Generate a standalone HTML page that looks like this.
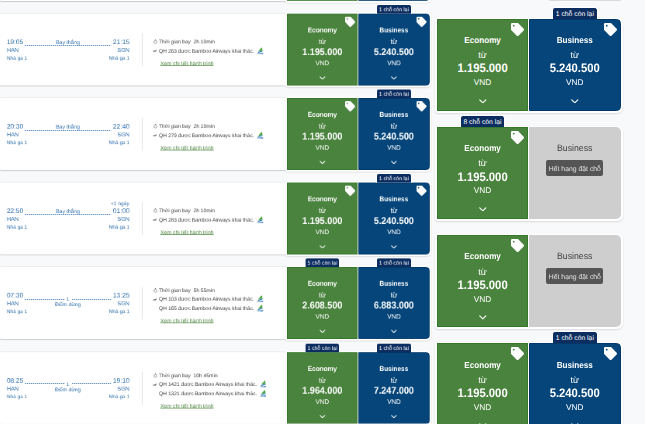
<!DOCTYPE html>
<html><head><meta charset="utf-8"><title>Flights</title><style>
*{margin:0;padding:0;box-sizing:border-box}
html,body{width:645px;height:424px;overflow:hidden;background:#f8f9fb}
body{position:relative;font-family:"Liberation Sans",sans-serif;text-rendering:geometricPrecision}
.left{position:absolute;left:0;top:0;width:559.28px;height:544.76px;overflow:hidden;transform:translate(-0.2px,0.31px) scale(0.776,0.782);transform-origin:0 0;will-change:transform}
.row{position:absolute;left:0;width:567.01px;height:92px}
.card{position:absolute;left:0;top:0;width:369px;height:92px;background:#fff;border-radius:2px;box-shadow:0 1px 1.2px rgba(0,0,0,.2),0 -0.5px 1.5px rgba(0,0,0,.07)}
.row div{position:absolute;white-space:nowrap;line-height:1}
.t{font-size:8.54px;color:#2f6fad;top:31.91px}
.ap{font-size:7.32px;color:#2f6fad;top:43.03px}
.tm{font-size:6.55px;color:#2f6fad;top:55.43px}
.dep{left:8.89px}
.arr{right:399.87px}
.plus{font-size:6.68px;color:#2f6fad;top:24.87px;right:400.13px}
.dots{top:40.86px;height:1.1px;background:repeating-linear-gradient(90deg,#3d78b0 0,#3d78b0 1px,transparent 1px,transparent 1.8px)}
.direct{font-size:6.80px;color:#2f6fad;top:35.10px;left:48.97px;width:77.32px;text-align:center}
.stopn{font-size:6.29px;color:#2f6fad;top:38.55px;left:74.74px;width:25.77px;text-align:center}
.stopl{font-size:6.74px;color:#2f6fad;top:46.36px;left:48.97px;width:77.32px;text-align:center}
.vline{left:183.12px;top:25.13px;width:1px;height:42.20px;background:#dcdfe3}
.ln{left:197.16px;height:7.70px;font-size:6.68px;color:#3d3d3d}
.ln .tx{position:absolute;left:7.86px;top:-3.08px;line-height:6.42px;height:6.42px}
.ln .tx svg{position:absolute;left:100%;top:-2.82px;margin-left:3.21px}
.ico{position:absolute}
.clock{left:0.51px;top:-3.47px;width:5.01px;height:5.65px}
.plane{left:0;top:-2.31px;width:5.39px;height:3.34px}
.logo{width:8.73px;height:9.37px}
.link{left:206.96px;font-size:6.87px;color:#4a843c;text-decoration:underline;text-decoration-thickness:0.8px;text-decoration-skip-ink:none;text-underline-offset:0.4px;text-decoration-color:rgba(74,132,60,.75);line-height:6.42px;margin-top:-2.44px}
.cw{position:absolute;top:0;width:0;height:0}
/* ---- cells at design scale ---- */
.pair{position:absolute;left:-2.0px;top:-2.0px;width:187.7px;height:96.0px;background:#fff;border-radius:3px 6px 6px 3px;box-shadow:0 1px 2px rgba(0,0,0,.13)}
.cell{position:absolute;top:0;height:92.0px;color:#fff;text-align:center}
.cell.eco{background:#4a833d;border:1px solid #35782a}
.cell.bus{background:#05457a;border:1px solid #003768;border-radius:0 4.5px 4.5px 0}
.cell.gray{background:#cecece;border-radius:0 5px 5px 0}
.cell div{position:absolute;left:-1px;right:-1px;white-space:nowrap;line-height:1}
.cell.gray div{left:0;right:0}
.cell .lbl{font-weight:bold;font-size:8.8px;top:16.3px;transform:scaleX(.925)}
.cell .tu{font-size:9px;top:31.4px}
.cell .num{font-weight:bold;font-size:12.2px;top:42.5px;transform:scaleX(.925)}
.cell .vnd{font-size:8.3px;top:58.4px}
.cell .chev{position:absolute;left:41.1px;top:78.9px;width:7.6px;height:4.6px}
.cell .tag{position:absolute;left:73.6px;top:3.1px;width:13px;height:13px}
.cell .badge{left:50%;right:auto;top:-12.9px;height:11.9px;width:45.6px;margin-left:-22.8px;background:#0c2d60;font-size:6.8px;line-height:13.6px;border-radius:3px 3px 0 0;color:#fff;border:1.1px solid #fff;border-bottom:none}
.cell.bus .badge,.cell.eco .badge{margin-top:0}
.cell .glabel{color:#404040;font-size:9.2px;top:16.7px;transform:scaleX(.95)}
.cell .sold{left:17.4px !important;right:auto !important;width:56.8px;top:32.5px;height:16.2px;background:#555;border-radius:2px;color:#e2e2e2;font-size:6.85px;line-height:19.6px;overflow:hidden}
.rp{position:absolute;width:0;height:0}
.rp .pair{top:-1px;height:95.0px}
.dots2{position:absolute;height:1px;background:repeating-linear-gradient(90deg,rgba(61,120,176,.72) 0,rgba(61,120,176,.72) 1px,rgba(61,120,176,.3) 1px,rgba(61,120,176,.3) 2px)}
.cw .lbl{font-size:9.05px;top:15.5px}
.cw .num{font-size:12.55px;top:42.1px}
.cw .tu{font-size:9.5px;top:31px}
</style></head><body>
<div class="left">
<div class="row" style="top:-91px"><div class="card"></div><div class="cw" style="left:370px;opacity:.8"><div class="pair "></div><div class="cell eco" style="left:0.00px;width:91.20px"></div><div class="cell bus" style="left:92.20px;width:91.50px"></div></div></div>
<div class="row" style="top:17px"><div class="card"></div><div class="t dep">19:05</div><div class="t arr">21:15</div><div class="ap dep">HAN</div><div class="ap arr">SGN</div><div class="tm dep">Nhà ga 1</div><div class="tm arr">Nhà ga 1</div><div class="direct">Bay thẳng</div><div class="vline"></div><div class="ln" style="top:36.89px"><svg class="ico clock" viewBox="0 0 8 9"><circle cx="4" cy="5.2" r="3" fill="none" stroke="#555" stroke-width="0.9"/><rect x="3" y="0.3" width="2" height="1.2" fill="#555"/></svg><span class="tx">Thời gian bay&nbsp; 2h 10min</span></div><div class="ln" style="top:48.59px"><svg class="ico plane" viewBox="0 0 10 6"><path d="M0.5 3.6 L3 2.6 L6.5 2.2 L8.6 0.6 L9.6 0.8 L8 3 L7.4 4.4 L3 4.6 L1 4.4 Z" fill="#444"/></svg><span class="tx">QH 263 được Bamboo Airways khai thác.<svg class="logo" viewBox="0 0 14 15"><path d="M11 0.2 C9 1.4 5.4 5 3.2 8.8 L11.6 6.4 C12 4.4 11.8 2 11 0.2Z" fill="#4aa83a"/><path d="M2.2 10 L12.6 6.6 L11.6 8.8 L3.4 11.4Z" fill="#1b6db3"/><rect x="0.8" y="11.7" width="5.6" height="2.3" fill="#5d9acd" opacity="0.8"/><rect x="6.9" y="11.4" width="6.4" height="2.8" fill="#3f83c0" opacity="0.85"/></svg></span></div><div class="link" style="top:63.94px">Xem chi tiết hành trình</div><div class="cw" style="left:370px"><div class="pair "></div><div class="cell eco" style="left:0.00px;width:91.20px"><svg class="tag" viewBox="0 0 512 512"><path fill="#fff" d="M0 252.118V48C0 21.49 21.49 0 48 0h204.118a48 48 0 0 1 33.941 14.059l211.882 211.882c18.745 18.745 18.745 49.137 0 67.882L293.823 497.941c-18.745 18.745-49.137 18.745-67.882 0L14.059 286.059A48 48 0 0 1 0 252.118zM108 70c-20 0-36 16-36 36s16 36 36 36 36-16 36-36-16-36-36-36z"/></svg><div class="lbl">Economy</div><div class="tu">từ</div><div class="num">1.195.000</div><div class="vnd">VND</div><svg class="chev" viewBox="0 0 10 6"><path d="M1 1 L5 5 L9 1" fill="none" stroke="#fff" stroke-width="1.5" stroke-linecap="round" stroke-linejoin="round"/></svg></div><div class="cell bus" style="left:92.20px;width:91.50px"><div class="badge">1 chỗ còn lại</div><svg class="tag" viewBox="0 0 512 512"><path fill="#fff" d="M0 252.118V48C0 21.49 21.49 0 48 0h204.118a48 48 0 0 1 33.941 14.059l211.882 211.882c18.745 18.745 18.745 49.137 0 67.882L293.823 497.941c-18.745 18.745-49.137 18.745-67.882 0L14.059 286.059A48 48 0 0 1 0 252.118zM108 70c-20 0-36 16-36 36s16 36 36 36 36-16 36-36-16-36-36-36z"/></svg><div class="lbl">Business</div><div class="tu">từ</div><div class="num">5.240.500</div><div class="vnd">VND</div><svg class="chev" viewBox="0 0 10 6"><path d="M1 1 L5 5 L9 1" fill="none" stroke="#fff" stroke-width="1.5" stroke-linecap="round" stroke-linejoin="round"/></svg></div></div></div>
<div class="row" style="top:125px"><div class="card"></div><div class="t dep">20:30</div><div class="t arr">22:40</div><div class="ap dep">HAN</div><div class="ap arr">SGN</div><div class="tm dep">Nhà ga 1</div><div class="tm arr">Nhà ga 1</div><div class="direct">Bay thẳng</div><div class="vline"></div><div class="ln" style="top:36.89px"><svg class="ico clock" viewBox="0 0 8 9"><circle cx="4" cy="5.2" r="3" fill="none" stroke="#555" stroke-width="0.9"/><rect x="3" y="0.3" width="2" height="1.2" fill="#555"/></svg><span class="tx">Thời gian bay&nbsp; 2h 10min</span></div><div class="ln" style="top:48.59px"><svg class="ico plane" viewBox="0 0 10 6"><path d="M0.5 3.6 L3 2.6 L6.5 2.2 L8.6 0.6 L9.6 0.8 L8 3 L7.4 4.4 L3 4.6 L1 4.4 Z" fill="#444"/></svg><span class="tx">QH 279 được Bamboo Airways khai thác.<svg class="logo" viewBox="0 0 14 15"><path d="M11 0.2 C9 1.4 5.4 5 3.2 8.8 L11.6 6.4 C12 4.4 11.8 2 11 0.2Z" fill="#4aa83a"/><path d="M2.2 10 L12.6 6.6 L11.6 8.8 L3.4 11.4Z" fill="#1b6db3"/><rect x="0.8" y="11.7" width="5.6" height="2.3" fill="#5d9acd" opacity="0.8"/><rect x="6.9" y="11.4" width="6.4" height="2.8" fill="#3f83c0" opacity="0.85"/></svg></span></div><div class="link" style="top:63.94px">Xem chi tiết hành trình</div><div class="cw" style="left:370px"><div class="pair "></div><div class="cell eco" style="left:0.00px;width:91.20px"><svg class="tag" viewBox="0 0 512 512"><path fill="#fff" d="M0 252.118V48C0 21.49 21.49 0 48 0h204.118a48 48 0 0 1 33.941 14.059l211.882 211.882c18.745 18.745 18.745 49.137 0 67.882L293.823 497.941c-18.745 18.745-49.137 18.745-67.882 0L14.059 286.059A48 48 0 0 1 0 252.118zM108 70c-20 0-36 16-36 36s16 36 36 36 36-16 36-36-16-36-36-36z"/></svg><div class="lbl">Economy</div><div class="tu">từ</div><div class="num">1.195.000</div><div class="vnd">VND</div><svg class="chev" viewBox="0 0 10 6"><path d="M1 1 L5 5 L9 1" fill="none" stroke="#fff" stroke-width="1.5" stroke-linecap="round" stroke-linejoin="round"/></svg></div><div class="cell bus" style="left:92.20px;width:91.50px"><div class="badge">1 chỗ còn lại</div><svg class="tag" viewBox="0 0 512 512"><path fill="#fff" d="M0 252.118V48C0 21.49 21.49 0 48 0h204.118a48 48 0 0 1 33.941 14.059l211.882 211.882c18.745 18.745 18.745 49.137 0 67.882L293.823 497.941c-18.745 18.745-49.137 18.745-67.882 0L14.059 286.059A48 48 0 0 1 0 252.118zM108 70c-20 0-36 16-36 36s16 36 36 36 36-16 36-36-16-36-36-36z"/></svg><div class="lbl">Business</div><div class="tu">từ</div><div class="num">5.240.500</div><div class="vnd">VND</div><svg class="chev" viewBox="0 0 10 6"><path d="M1 1 L5 5 L9 1" fill="none" stroke="#fff" stroke-width="1.5" stroke-linecap="round" stroke-linejoin="round"/></svg></div></div></div>
<div class="row" style="top:233px"><div class="card"></div><div class="t dep">22:50</div><div class="t arr">01:00</div><div class="ap dep">HAN</div><div class="ap arr">SGN</div><div class="tm dep">Nhà ga 1</div><div class="tm arr">Nhà ga 1</div><div class="plus">+1 ngày</div><div class="direct">Bay thẳng</div><div class="vline"></div><div class="ln" style="top:36.89px"><svg class="ico clock" viewBox="0 0 8 9"><circle cx="4" cy="5.2" r="3" fill="none" stroke="#555" stroke-width="0.9"/><rect x="3" y="0.3" width="2" height="1.2" fill="#555"/></svg><span class="tx">Thời gian bay&nbsp; 2h 10min</span></div><div class="ln" style="top:48.59px"><svg class="ico plane" viewBox="0 0 10 6"><path d="M0.5 3.6 L3 2.6 L6.5 2.2 L8.6 0.6 L9.6 0.8 L8 3 L7.4 4.4 L3 4.6 L1 4.4 Z" fill="#444"/></svg><span class="tx">QH 283 được Bamboo Airways khai thác.<svg class="logo" viewBox="0 0 14 15"><path d="M11 0.2 C9 1.4 5.4 5 3.2 8.8 L11.6 6.4 C12 4.4 11.8 2 11 0.2Z" fill="#4aa83a"/><path d="M2.2 10 L12.6 6.6 L11.6 8.8 L3.4 11.4Z" fill="#1b6db3"/><rect x="0.8" y="11.7" width="5.6" height="2.3" fill="#5d9acd" opacity="0.8"/><rect x="6.9" y="11.4" width="6.4" height="2.8" fill="#3f83c0" opacity="0.85"/></svg></span></div><div class="link" style="top:63.94px">Xem chi tiết hành trình</div><div class="cw" style="left:370px"><div class="pair "></div><div class="cell eco" style="left:0.00px;width:91.20px"><svg class="tag" viewBox="0 0 512 512"><path fill="#fff" d="M0 252.118V48C0 21.49 21.49 0 48 0h204.118a48 48 0 0 1 33.941 14.059l211.882 211.882c18.745 18.745 18.745 49.137 0 67.882L293.823 497.941c-18.745 18.745-49.137 18.745-67.882 0L14.059 286.059A48 48 0 0 1 0 252.118zM108 70c-20 0-36 16-36 36s16 36 36 36 36-16 36-36-16-36-36-36z"/></svg><div class="lbl">Economy</div><div class="tu">từ</div><div class="num">1.195.000</div><div class="vnd">VND</div><svg class="chev" viewBox="0 0 10 6"><path d="M1 1 L5 5 L9 1" fill="none" stroke="#fff" stroke-width="1.5" stroke-linecap="round" stroke-linejoin="round"/></svg></div><div class="cell bus" style="left:92.20px;width:91.50px"><div class="badge">1 chỗ còn lại</div><svg class="tag" viewBox="0 0 512 512"><path fill="#fff" d="M0 252.118V48C0 21.49 21.49 0 48 0h204.118a48 48 0 0 1 33.941 14.059l211.882 211.882c18.745 18.745 18.745 49.137 0 67.882L293.823 497.941c-18.745 18.745-49.137 18.745-67.882 0L14.059 286.059A48 48 0 0 1 0 252.118zM108 70c-20 0-36 16-36 36s16 36 36 36 36-16 36-36-16-36-36-36z"/></svg><div class="lbl">Business</div><div class="tu">từ</div><div class="num">5.240.500</div><div class="vnd">VND</div><svg class="chev" viewBox="0 0 10 6"><path d="M1 1 L5 5 L9 1" fill="none" stroke="#fff" stroke-width="1.5" stroke-linecap="round" stroke-linejoin="round"/></svg></div></div></div>
<div class="row" style="top:341px"><div class="card"></div><div class="t dep">07:30</div><div class="t arr">13:25</div><div class="ap dep">HAN</div><div class="ap arr">SGN</div><div class="tm dep">Nhà ga 1</div><div class="tm arr">Nhà ga 1</div><div class="stopn">1</div><div class="stopl">Điểm dừng</div><div class="vline"></div><div class="ln" style="top:30.63px"><svg class="ico clock" viewBox="0 0 8 9"><circle cx="4" cy="5.2" r="3" fill="none" stroke="#555" stroke-width="0.9"/><rect x="3" y="0.3" width="2" height="1.2" fill="#555"/></svg><span class="tx">Thời gian bay&nbsp; 5h 55min</span></div><div class="ln" style="top:42.33px"><svg class="ico plane" viewBox="0 0 10 6"><path d="M0.5 3.6 L3 2.6 L6.5 2.2 L8.6 0.6 L9.6 0.8 L8 3 L7.4 4.4 L3 4.6 L1 4.4 Z" fill="#444"/></svg><span class="tx">QH 103 được Bamboo Airways khai thác.<svg class="logo" viewBox="0 0 14 15"><path d="M11 0.2 C9 1.4 5.4 5 3.2 8.8 L11.6 6.4 C12 4.4 11.8 2 11 0.2Z" fill="#4aa83a"/><path d="M2.2 10 L12.6 6.6 L11.6 8.8 L3.4 11.4Z" fill="#1b6db3"/><rect x="0.8" y="11.7" width="5.6" height="2.3" fill="#5d9acd" opacity="0.8"/><rect x="6.9" y="11.4" width="6.4" height="2.8" fill="#3f83c0" opacity="0.85"/></svg></span></div><div class="ln" style="top:54.03px"><span class="tx">QH 165 được Bamboo Airways khai thác.<svg class="logo" viewBox="0 0 14 15"><path d="M11 0.2 C9 1.4 5.4 5 3.2 8.8 L11.6 6.4 C12 4.4 11.8 2 11 0.2Z" fill="#4aa83a"/><path d="M2.2 10 L12.6 6.6 L11.6 8.8 L3.4 11.4Z" fill="#1b6db3"/><rect x="0.8" y="11.7" width="5.6" height="2.3" fill="#5d9acd" opacity="0.8"/><rect x="6.9" y="11.4" width="6.4" height="2.8" fill="#3f83c0" opacity="0.85"/></svg></span></div><div class="link" style="top:69.37px">Xem chi tiết hành trình</div><div class="cw" style="left:370px"><div class="pair "></div><div class="cell eco" style="left:0.00px;width:91.20px"><div class="badge">5 chỗ còn lại</div><div class="lbl">Economy</div><div class="tu">từ</div><div class="num">2.608.500</div><div class="vnd">VND</div><svg class="chev" viewBox="0 0 10 6"><path d="M1 1 L5 5 L9 1" fill="none" stroke="#fff" stroke-width="1.5" stroke-linecap="round" stroke-linejoin="round"/></svg></div><div class="cell bus" style="left:92.20px;width:91.50px"><div class="badge">1 chỗ còn lại</div><div class="lbl">Business</div><div class="tu">từ</div><div class="num">6.883.000</div><div class="vnd">VND</div><svg class="chev" viewBox="0 0 10 6"><path d="M1 1 L5 5 L9 1" fill="none" stroke="#fff" stroke-width="1.5" stroke-linecap="round" stroke-linejoin="round"/></svg></div></div></div>
<div class="row" style="top:450px"><div class="card"></div><div class="t dep">08:25</div><div class="t arr">19:10</div><div class="ap dep">HAN</div><div class="ap arr">SGN</div><div class="tm dep">Nhà ga 1</div><div class="tm arr">Nhà ga 1</div><div class="stopn">1</div><div class="stopl">Điểm dừng</div><div class="vline"></div><div class="ln" style="top:30.63px"><svg class="ico clock" viewBox="0 0 8 9"><circle cx="4" cy="5.2" r="3" fill="none" stroke="#555" stroke-width="0.9"/><rect x="3" y="0.3" width="2" height="1.2" fill="#555"/></svg><span class="tx">Thời gian bay&nbsp; 10h 45min</span></div><div class="ln" style="top:42.33px"><svg class="ico plane" viewBox="0 0 10 6"><path d="M0.5 3.6 L3 2.6 L6.5 2.2 L8.6 0.6 L9.6 0.8 L8 3 L7.4 4.4 L3 4.6 L1 4.4 Z" fill="#444"/></svg><span class="tx">QH 1421 được Bamboo Airways khai thác.<svg class="logo" viewBox="0 0 14 15"><path d="M11 0.2 C9 1.4 5.4 5 3.2 8.8 L11.6 6.4 C12 4.4 11.8 2 11 0.2Z" fill="#4aa83a"/><path d="M2.2 10 L12.6 6.6 L11.6 8.8 L3.4 11.4Z" fill="#1b6db3"/><rect x="0.8" y="11.7" width="5.6" height="2.3" fill="#5d9acd" opacity="0.8"/><rect x="6.9" y="11.4" width="6.4" height="2.8" fill="#3f83c0" opacity="0.85"/></svg></span></div><div class="ln" style="top:54.03px"><span class="tx">QH 1321 được Bamboo Airways khai thác.<svg class="logo" viewBox="0 0 14 15"><path d="M11 0.2 C9 1.4 5.4 5 3.2 8.8 L11.6 6.4 C12 4.4 11.8 2 11 0.2Z" fill="#4aa83a"/><path d="M2.2 10 L12.6 6.6 L11.6 8.8 L3.4 11.4Z" fill="#1b6db3"/><rect x="0.8" y="11.7" width="5.6" height="2.3" fill="#5d9acd" opacity="0.8"/><rect x="6.9" y="11.4" width="6.4" height="2.8" fill="#3f83c0" opacity="0.85"/></svg></span></div><div class="link" style="top:69.37px">Xem chi tiết hành trình</div><div class="cw" style="left:370px"><div class="pair "></div><div class="cell eco" style="left:0.00px;width:91.20px"><div class="badge">1 chỗ còn lại</div><div class="lbl">Economy</div><div class="tu">từ</div><div class="num">1.964.000</div><div class="vnd">VND</div><svg class="chev" viewBox="0 0 10 6"><path d="M1 1 L5 5 L9 1" fill="none" stroke="#fff" stroke-width="1.5" stroke-linecap="round" stroke-linejoin="round"/></svg></div><div class="cell bus" style="left:92.20px;width:91.50px"><div class="badge">1 chỗ còn lại</div><div class="lbl">Business</div><div class="tu">từ</div><div class="num">7.247.000</div><div class="vnd">VND</div><svg class="chev" viewBox="0 0 10 6"><path d="M1 1 L5 5 L9 1" fill="none" stroke="#fff" stroke-width="1.5" stroke-linecap="round" stroke-linejoin="round"/></svg></div></div></div>
</div>
<div class="dots2" style="left:25px;top:45px;width:86px"></div>
<div class="dots2" style="left:25px;top:130px;width:86px"></div>
<div class="dots2" style="left:25px;top:214px;width:86px"></div>
<div class="dots2" style="left:25px;top:299px;width:40px"></div><div class="dots2" style="left:72px;top:299px;width:39px"></div>
<div class="dots2" style="left:25px;top:383px;width:40px"></div><div class="dots2" style="left:72px;top:383px;width:39px"></div>
<div class="rp" style="left:436.9px;top:18.85px"><div class="pair "></div><div class="cell eco" style="left:0.00px;width:91.20px"><svg class="tag" viewBox="0 0 512 512"><path fill="#fff" d="M0 252.118V48C0 21.49 21.49 0 48 0h204.118a48 48 0 0 1 33.941 14.059l211.882 211.882c18.745 18.745 18.745 49.137 0 67.882L293.823 497.941c-18.745 18.745-49.137 18.745-67.882 0L14.059 286.059A48 48 0 0 1 0 252.118zM108 70c-20 0-36 16-36 36s16 36 36 36 36-16 36-36-16-36-36-36z"/></svg><div class="lbl">Economy</div><div class="tu">từ</div><div class="num">1.195.000</div><div class="vnd">VND</div><svg class="chev" viewBox="0 0 10 6"><path d="M1 1 L5 5 L9 1" fill="none" stroke="#fff" stroke-width="1.5" stroke-linecap="round" stroke-linejoin="round"/></svg></div><div class="cell bus" style="left:92.20px;width:91.50px"><div class="badge">1 chỗ còn lại</div><svg class="tag" viewBox="0 0 512 512"><path fill="#fff" d="M0 252.118V48C0 21.49 21.49 0 48 0h204.118a48 48 0 0 1 33.941 14.059l211.882 211.882c18.745 18.745 18.745 49.137 0 67.882L293.823 497.941c-18.745 18.745-49.137 18.745-67.882 0L14.059 286.059A48 48 0 0 1 0 252.118zM108 70c-20 0-36 16-36 36s16 36 36 36 36-16 36-36-16-36-36-36z"/></svg><div class="lbl">Business</div><div class="tu">từ</div><div class="num">5.240.500</div><div class="vnd">VND</div><svg class="chev" viewBox="0 0 10 6"><path d="M1 1 L5 5 L9 1" fill="none" stroke="#fff" stroke-width="1.5" stroke-linecap="round" stroke-linejoin="round"/></svg></div></div>
<div class="rp" style="left:436.9px;top:127.00px"><div class="pair "></div><div class="cell eco" style="left:0.00px;width:91.20px"><div class="badge">8 chỗ còn lại</div><svg class="tag" viewBox="0 0 512 512"><path fill="#fff" d="M0 252.118V48C0 21.49 21.49 0 48 0h204.118a48 48 0 0 1 33.941 14.059l211.882 211.882c18.745 18.745 18.745 49.137 0 67.882L293.823 497.941c-18.745 18.745-49.137 18.745-67.882 0L14.059 286.059A48 48 0 0 1 0 252.118zM108 70c-20 0-36 16-36 36s16 36 36 36 36-16 36-36-16-36-36-36z"/></svg><div class="lbl">Economy</div><div class="tu">từ</div><div class="num">1.195.000</div><div class="vnd">VND</div><svg class="chev" viewBox="0 0 10 6"><path d="M1 1 L5 5 L9 1" fill="none" stroke="#fff" stroke-width="1.5" stroke-linecap="round" stroke-linejoin="round"/></svg></div><div class="cell gray" style="left:92.20px;width:91.50px"><div class="glabel">Business</div><div class="sold">Hết hạng đặt chỗ</div></div></div>
<div class="rp" style="left:436.9px;top:235.15px"><div class="pair "></div><div class="cell eco" style="left:0.00px;width:91.20px"><svg class="tag" viewBox="0 0 512 512"><path fill="#fff" d="M0 252.118V48C0 21.49 21.49 0 48 0h204.118a48 48 0 0 1 33.941 14.059l211.882 211.882c18.745 18.745 18.745 49.137 0 67.882L293.823 497.941c-18.745 18.745-49.137 18.745-67.882 0L14.059 286.059A48 48 0 0 1 0 252.118zM108 70c-20 0-36 16-36 36s16 36 36 36 36-16 36-36-16-36-36-36z"/></svg><div class="lbl">Economy</div><div class="tu">từ</div><div class="num">1.195.000</div><div class="vnd">VND</div><svg class="chev" viewBox="0 0 10 6"><path d="M1 1 L5 5 L9 1" fill="none" stroke="#fff" stroke-width="1.5" stroke-linecap="round" stroke-linejoin="round"/></svg></div><div class="cell gray" style="left:92.20px;width:91.50px"><div class="glabel">Business</div><div class="sold">Hết hạng đặt chỗ</div></div></div>
<div class="rp" style="left:436.9px;top:343.30px"><div class="pair "></div><div class="cell eco" style="left:0.00px;width:91.20px"><svg class="tag" viewBox="0 0 512 512"><path fill="#fff" d="M0 252.118V48C0 21.49 21.49 0 48 0h204.118a48 48 0 0 1 33.941 14.059l211.882 211.882c18.745 18.745 18.745 49.137 0 67.882L293.823 497.941c-18.745 18.745-49.137 18.745-67.882 0L14.059 286.059A48 48 0 0 1 0 252.118zM108 70c-20 0-36 16-36 36s16 36 36 36 36-16 36-36-16-36-36-36z"/></svg><div class="lbl">Economy</div><div class="tu">từ</div><div class="num">1.195.000</div><div class="vnd">VND</div><svg class="chev" viewBox="0 0 10 6"><path d="M1 1 L5 5 L9 1" fill="none" stroke="#fff" stroke-width="1.5" stroke-linecap="round" stroke-linejoin="round"/></svg></div><div class="cell bus" style="left:92.20px;width:91.50px"><div class="badge">1 chỗ còn lại</div><svg class="tag" viewBox="0 0 512 512"><path fill="#fff" d="M0 252.118V48C0 21.49 21.49 0 48 0h204.118a48 48 0 0 1 33.941 14.059l211.882 211.882c18.745 18.745 18.745 49.137 0 67.882L293.823 497.941c-18.745 18.745-49.137 18.745-67.882 0L14.059 286.059A48 48 0 0 1 0 252.118zM108 70c-20 0-36 16-36 36s16 36 36 36 36-16 36-36-16-36-36-36z"/></svg><div class="lbl">Business</div><div class="tu">từ</div><div class="num">5.240.500</div><div class="vnd">VND</div><svg class="chev" viewBox="0 0 10 6"><path d="M1 1 L5 5 L9 1" fill="none" stroke="#fff" stroke-width="1.5" stroke-linecap="round" stroke-linejoin="round"/></svg></div></div>
<div style="position:absolute;left:548px;top:-2px;width:74px;height:3.3px;background:#dadada;border-radius:0 0 4px 4px"></div>
<div style="position:absolute;left:0;top:423px;width:432px;height:1px;background:rgba(248,249,251,.45)"></div>
</body></html>
